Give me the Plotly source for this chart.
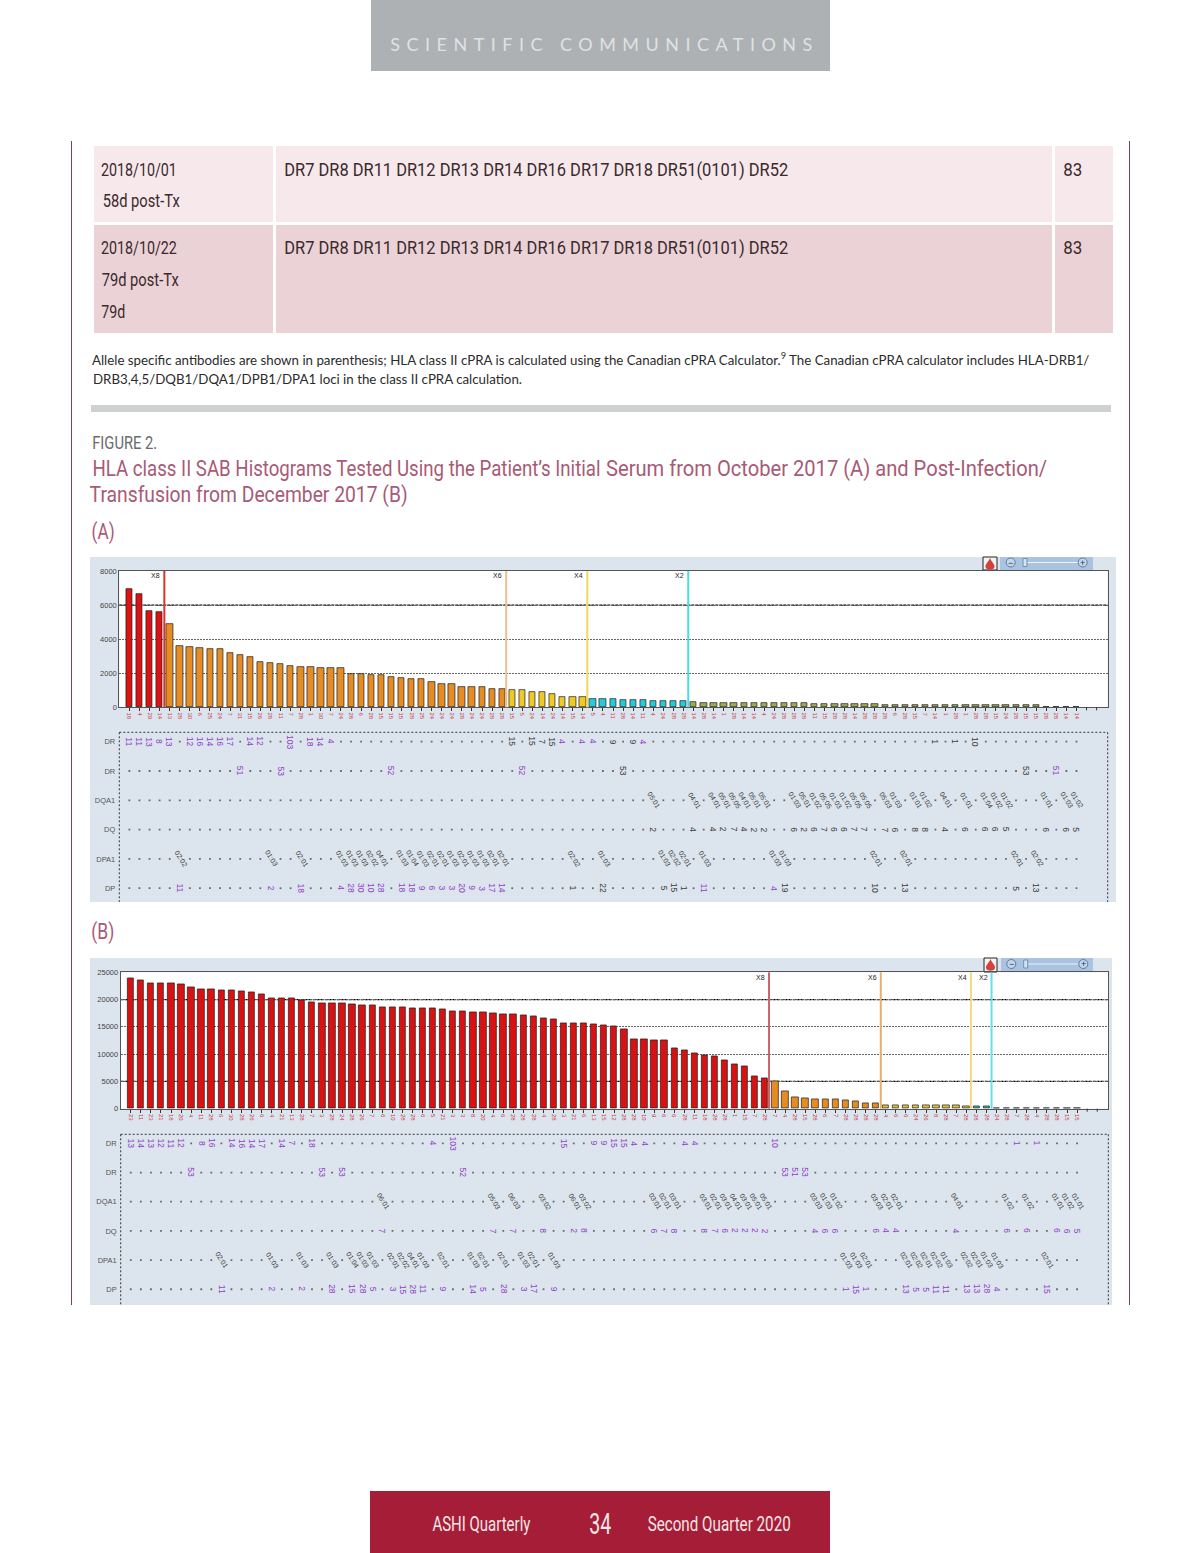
import json
import plotly.graph_objects as go

W, H = 1200, 1553

# ---------- chart data ----------
A_VALUES = [6950, 6630, 5640, 5620, 4870, 3580, 3520, 3460, 3440, 3400, 3170, 3050, 2930, 2640, 2580, 2520,
            2400, 2350, 2340, 2290, 2280, 2280, 1940, 1930, 1880, 1870, 1760, 1740, 1640, 1640, 1470, 1350,
            1340, 1170, 1170, 1170, 1060, 1050, 1000, 990, 880, 870, 760, 590, 580, 580, 470, 460,
            470, 410, 410, 410, 350, 350, 350, 350, 290, 235, 235, 235, 235, 235, 235, 235,
            235, 235, 235, 230, 175, 175, 175, 175, 175, 175, 175, 120, 120, 120, 120, 120,
            120, 120, 120, 120, 120, 120, 120, 120, 120, 120, 120, 40, 40, 40, 0]
A_GROUPS = [4, 34, 8, 10, 35, 4]
B_VALUES = [23960, 23600, 23040, 22980, 22980, 22800, 22310, 21940, 21940, 21700, 21700, 21580, 21330, 20970,
            20290, 20290, 20290, 19870, 19560, 19380, 19380, 19320, 19130, 19010, 19010, 18640, 18640, 18640,
            18400, 18400, 18400, 18280, 17910, 17910, 17730, 17670, 17540, 17360, 17300, 17180, 16990, 16630,
            16440, 15650, 15650, 15650, 15530, 15220, 15160, 14550, 12780, 12710, 12590, 12590, 11060, 10760,
            10150, 9840, 9540, 8920, 8130, 7760, 5930, 5560, 4950, 3180, 2080, 1890, 1710, 1710, 1710, 1530,
            1340, 980, 980, 610, 610, 610, 610, 600, 600, 600, 600, 430, 420, 370, 60, 50, 50, 40, 40, 30, 30, 30, 0]
B_GROUPS = [64, 11, 9, 2, 9]
GROUP_COLORS_A = ["#dd1212", "#e58c24", "#efca26", "#25cbdc", "#9dab52", "#333333"]
GROUP_COLORS_B = ["#d81212", "#e58c24", "#e2c03a", "#3bbcb4", "#333333"]

A_BEADS = ["18", "4", "29", "14", "13", "28", "30", "6", "25", "24", "7", "31", "15", "26", "28", "11",
           "7", "28", "1", "30", "7", "24", "28", "6", "28", "15", "15", "15", "28", "25", "24", "24",
           "24", "28", "24", "24", "28", "28", "15", "5", "24", "14", "24", "14", "15", "14", "5", "4",
           "11", "28", "14", "11", "4", "24", "28", "28", "14", "28", "14", "1", "28", "14", "14", "4",
           "24", "28", "28", "28", "11", "15", "28", "28", "14", "28", "28", "28", "6", "28", "15", "7",
           "14", "1", "28", "1", "28", "28", "15", "24", "28", "15", "15", "28", "28", "14", "14"]
B_BEADS = ["23", "11", "23", "21", "18", "20", "4", "11", "28", "6", "30", "28", "26", "6", "4", "21",
           "13", "28", "7", "3", "28", "24", "28", "26", "7", "6", "10", "28", "28", "6", "5", "21",
           "3", "3", "8", "20", "4", "6", "28", "28", "28", "4", "28", "3", "21", "6", "13", "15",
           "12", "28", "28", "10", "9", "6", "6", "28", "11", "18", "28", "28", "1", "15", "7", "28",
           "7", "4", "28", "15", "28", "6", "7", "28", "28", "28", "28", "4", "6", "6", "24", "26",
           "8", "28", "7", "28", "28", "28", "24", "28", "7", "28", "4", "28", "28", "15", "15"]

A_CUTS = [3.47, 37.4, 45.45, 55.47]
B_CUTS = [63.4, 74.5, 83.45, 85.5]
CUT_NAMES = ["X8", "X6", "X4", "X2"]
CUT_COLORS_A = ["#d8342c", "#ecbf90", "#f2d85c", "#4bdbe8"]
CUT_COLORS_B = ["#c9636b", "#e6b06a", "#f2d97a", "#63e0ec"]
EXTRA_TICKS = [95, 96]
HEAVY_GRID_A = [6000]
HEAVY_GRID_B = [5000, 20000]

ROW_NAMES = ["DR", "DR", "DQA1", "DQ", "DPA1", "DP"]

A_R1 = {0: "11", 1: "11", 2: "13", 3: "8", 4: "13", 6: "12", 7: "16", 8: "14", 9: "16", 10: "17", 12: "14", 13: "12",
        16: "103", 18: "18", 19: "14", 20: "4", 38: "15", 40: "15", 41: "7", 42: "15", 43: "4", 45: "4", 46: "4",
        48: "9", 50: "9", 51: "4", 80: "1", 82: "1", 84: "10"}
A_R1_BLACK = [38, 40, 41, 42, 48, 50, 80, 82, 84]
A_R2 = {11: "51", 15: "53", 26: "52", 39: "52", 49: "53", 89: "53", 92: "51"}
A_R2_BLACK = [49, 89]
A_R3 = {52: "05:01", 56: "04:01", 58: "04:01", 59: "05:01", 60: "05:05", 61: "04:01", 62: "05:01", 63: "05:01",
        66: "01:03", 67: "05:01", 68: "01:02", 69: "05:05", 70: "01:03", 71: "01:02", 72: "05:05", 73: "05:05",
        75: "05:03", 76: "01:03", 78: "01:01", 79: "01:02", 81: "04:01", 83: "01:01", 85: "01:04", 86: "01:02",
        87: "01:02", 91: "01:01", 93: "01:03", 94: "01:02"}
A_R4 = {52: "2", 56: "4", 58: "4", 59: "2", 60: "7", 61: "4", 62: "2", 63: "2", 66: "6", 67: "2", 68: "6", 69: "7",
        70: "6", 71: "6", 72: "7", 73: "7", 75: "7", 76: "6", 78: "8", 79: "8", 81: "4", 83: "6", 85: "6", 86: "6",
        87: "5", 91: "6", 93: "6", 94: "5"}
A_R5 = {5: "02:02", 14: "01:03", 17: "02:01", 21: "01:03", 22: "01:03", 23: "01:03", 24: "02:02", 25: "04:01",
        27: "01:03", 28: "01:04", 29: "01:03", 30: "02:01", 31: "02:01", 32: "01:03", 33: "02:01", 34: "01:03",
        35: "01:03", 36: "02:01", 37: "02:01", 44: "02:02", 47: "01:03", 53: "01:03", 54: "02:02", 55: "02:01",
        57: "01:03", 64: "01:03", 65: "01:03", 74: "02:01", 77: "02:01", 88: "02:01", 90: "02:02"}
A_R6 = {5: "11", 14: "2", 17: "18", 21: "4", 22: "28", 23: "30", 24: "10", 25: "28", 27: "18", 28: "18", 29: "9",
        30: "6", 31: "3", 32: "3", 33: "20", 34: "9", 35: "3", 36: "17", 37: "14", 44: "1", 47: "22", 53: "5",
        54: "15", 55: "1", 57: "11", 64: "4", 65: "19", 74: "10", 77: "13", 88: "5", 90: "13"}
A_R6_BLACK = [44, 47, 53, 54, 55, 65, 74, 77, 88, 90]

B_R1 = {0: "13", 1: "14", 2: "13", 3: "12", 4: "11", 5: "12", 7: "8", 8: "16", 10: "14", 11: "16", 12: "14", 13: "17",
        15: "14", 16: "7", 18: "18", 30: "4", 32: "103", 43: "15", 46: "9", 47: "9", 48: "15", 49: "15", 50: "4",
        51: "4", 55: "4", 56: "4", 64: "10", 88: "1", 90: "1"}
B_R2 = {6: "53", 19: "53", 21: "53", 33: "52", 65: "53", 66: "51", 67: "53"}
B_R3 = {25: "06:01", 36: "05:03", 38: "06:03", 41: "03:02", 44: "06:01", 45: "03:02", 52: "03:01", 53: "02:01",
        54: "03:01", 57: "03:01", 58: "02:01", 59: "03:01", 60: "04:01", 61: "03:01", 62: "05:01", 63: "05:01",
        68: "03:03", 69: "01:03", 70: "01:02", 74: "03:03", 75: "02:01", 76: "02:01", 82: "04:01", 87: "01:02",
        89: "01:02", 92: "01:01", 93: "01:02", 94: "01:01"}
B_R4 = {25: "7", 36: "7", 38: "7", 41: "8", 44: "2", 45: "8", 52: "6", 53: "7", 54: "8", 57: "8", 58: "7", 59: "6",
        60: "2", 61: "2", 62: "2", 63: "2", 68: "4", 69: "6", 70: "6", 74: "6", 75: "4", 76: "4", 82: "4", 87: "6",
        89: "6", 92: "6", 93: "6", 94: "5"}
B_R5 = {9: "02:01", 14: "01:03", 17: "01:03", 20: "01:03", 22: "01:04", 23: "01:03", 24: "01:03", 26: "02:01",
        27: "02:02", 28: "04:01", 29: "01:03", 31: "02:01", 34: "01:03", 35: "02:01", 37: "02:01", 39: "01:03",
        40: "02:01", 42: "01:03", 71: "01:03", 72: "01:03", 73: "02:01", 77: "02:01", 78: "02:02", 79: "02:01",
        80: "02:02", 81: "01:03", 83: "02:02", 84: "02:01", 85: "01:03", 86: "01:03", 91: "02:01"}
B_R6 = {9: "11", 14: "2", 17: "2", 20: "28", 22: "15", 23: "28", 24: "5", 26: "3", 27: "15", 28: "28", 29: "11",
        31: "9", 34: "14", 35: "5", 37: "28", 39: "3", 40: "17", 42: "9", 71: "1", 72: "15", 73: "1", 77: "13",
        78: "5", 79: "5", 80: "11", 81: "11", 83: "13", 84: "13", 85: "28", 86: "4", 91: "15"}

PURPLE = "#9040c8"
SANS = "Liberation Sans"
NARROW = "Roboto"


def px(x):
    return x / W


def py(y):
    return 1 - y / H


shapes, notes = [], []
fitted = {}


def rect(x0, y0, x1, y1, color, line=None):
    shapes.append(dict(type="rect", xref="paper", yref="paper", x0=px(x0), x1=px(x1), y0=py(y0), y1=py(y1),
                       fillcolor=color, line=dict(width=1 if line else 0, color=line or color), layer="below"))


def text(x, y, s, size, color, font=NARROW, anchor="left"):
    notes.append(dict(text=s, x=px(x), y=py(y), xref="paper", yref="paper", xanchor=anchor, yanchor="middle",
                      showarrow=False, borderpad=0, font=dict(size=size, color=color, family=font)))


def span(x0, x1, y, s, size, color, font=NARROW, mode="spacingAndGlyphs"):
    """Text set to run from x0 to x1, as the condensed type of the page does."""
    text((x0 + x1) / 2, y, s, size, color, font=font, anchor="center")
    fitted[s] = [x1 - x0, mode]


# ---------- page furniture ----------
rect(371, 0, 830, 71, "#adb1b3")
span(390, 812, 44, "SCIENTIFIC\u00a0COMMUNICATIONS", 18, "#dfe2e3", font="Lato", mode="spacing")
for sx in (71.5, 1129.5):
    shapes.append(dict(type="line", xref="paper", yref="paper", x0=px(sx), x1=px(sx), y0=py(141), y1=py(1305),
                       line=dict(color="#7a4450", width=1), layer="below"))
for y0, y1, c in ((146, 222, "#f6e8eb"), (225, 333, "#ebd2d6")):
    for x0, x1 in ((94, 273), (276, 1052), (1055, 1113)):
        rect(x0, y0, x1, y1, c)
TEXT_DARK = "#3b2a2d"
ROW_TXT = "DR7 DR8 DR11 DR12 DR13 DR14 DR16 DR17 DR18 DR51(0101) DR52"
span(101, 177, 169, "2018/10/01", 18, TEXT_DARK)
span(102, 179, 200, "58d post-Tx", 18, TEXT_DARK)
span(284, 788, 169, ROW_TXT, 19, TEXT_DARK)
span(1063, 1082, 169, "83", 19, TEXT_DARK)
span(101, 177, 248, "2018/10/22", 18, TEXT_DARK)
span(101, 178, 279, "79d post-Tx", 18, TEXT_DARK)
span(101, 125, 311, "79d", 18, TEXT_DARK)
span(284, 788, 248, ROW_TXT, 19, TEXT_DARK)
span(1063, 1082, 248, "83", 19, TEXT_DARK)
text(91, 359, "Allele specific antibodies are shown in parenthesis; HLA class II cPRA is calculated using the Canadian cPRA Calculator.<sup>9</sup> The Canadian cPRA calculator includes HLA-DRB1/",
     13.3, "#2b2b2b", font="Lato")
text(92, 379, "DRB3,4,5/DQB1/DQA1/DPB1/DPA1 loci in the class II cPRA calculation.", 13.3, "#2b2b2b", font="Lato")
rect(91, 405, 1111, 412, "#cfd0d0")
span(92, 157, 442, "FIGURE 2.", 18, "#6b6b6b")
TITLE_C = "#a85a76"
span(92, 600, 468, "HLA class II SAB Histograms Tested Using the Patient\u2019s Initial", 22.5, TITLE_C)
span(606, 1047, 468, "Serum from October 2017 (A) and Post-Infection/", 22.5, TITLE_C)
span(89, 407, 495, "Transfusion from December 2017 (B)", 22.5, TITLE_C)
span(91, 114, 532, "(A)", 22.5, TITLE_C)
span(91, 114, 932, "(B)", 22.5, TITLE_C)
rect(370, 1491, 830, 1553, "#a51d36")
span(432, 530, 1524, "ASHI Quarterly", 20, "#f4e6e8")
span(589, 611, 1524, "34", 29, "#f4e6e8")
span(647, 790, 1524, "Second Quarter 2020", 20, "#f4e6e8")

rect(90, 557, 1116, 902, "#dce5ed")
rect(90, 958, 1112, 1305, "#dce5ed")
rect(119.3, 571, 1107.7, 707.3, "#ffffff")
rect(120.7, 972.3, 1108.3, 1108.7, "#ffffff")


def toolbar(bx0, bx1, sx0, sx1, top, bot, c0, c1, knob):
    rect(bx0, top, bx1, bot, "#f3f3f3", line="#222222")
    cx = (bx0 + bx1) / 2
    m = top + 1
    path = (f"M {px(cx)},{py(m)} C {px(cx+1.5)},{py(m+4)} {px(cx+5)},{py(m+6)} {px(cx+4.5)},{py(m+9)} "
            f"C {px(cx+4)},{py(m+12.5)} {px(cx-4)},{py(m+12.5)} {px(cx-4.5)},{py(m+9)} "
            f"C {px(cx-5)},{py(m+6)} {px(cx-1.5)},{py(m+4)} {px(cx)},{py(m)} Z")
    shapes.append(dict(type="path", xref="paper", yref="paper", path=path, fillcolor="#d5403a",
                       line=dict(width=0), layer="below"))
    rect(sx0, top, sx1, bot, "#a9c3e0")
    mid = (top + bot) / 2 - 1
    shapes.append(dict(type="line", xref="paper", yref="paper", x0=px(knob), x1=px(c1), y0=py(mid), y1=py(mid),
                       line=dict(color="#eef4fa", width=1), layer="below"))
    for c in (c0, c1):
        shapes.append(dict(type="circle", xref="paper", yref="paper", x0=px(c - 4.5), x1=px(c + 4.5),
                           y0=py(mid - 4.5), y1=py(mid + 4.5), fillcolor="#c4d6ea",
                           line=dict(color="#5b7da3", width=1), layer="below"))
    rect(knob - 2, mid - 4, knob + 2, mid + 4, "#d6e3f1", line="#6f8fb2")
    text(c0, mid, "\u2212", 9, "#334", font=SANS, anchor="center")
    text(c1, mid, "+", 9, "#334", font=SANS, anchor="center")


toolbar(983, 997, 1000, 1093, 557, 570, 1010.7, 1082.7, 1025)
toolbar(984, 997, 1001, 1093, 958, 972, 1011.3, 1083.3, 1025.7)


def colors_from(groups, palette):
    out = []
    for n, c in zip(groups, palette):
        out += [c] * n
    return out


fig = go.Figure()


def panel(values, groups, palette, beads, cuts, cut_colors, heavy, xa, ya, xr, yr, rows, row_axes_ids, blacks, dtick_max, dtick):
    n = len(values)
    x_id, y_id = xa.replace("axis", ""), ya.replace("axis", "")
    fig.add_trace(go.Bar(x=list(range(n)), y=values, xaxis=x_id, yaxis=y_id, width=0.63,
                         marker=dict(color=colors_from(groups, palette), line=dict(color="#1c1c1c", width=0.7)),
                         showlegend=False, hoverinfo="skip"))
    for v in heavy:
        shapes.append(dict(type="line", xref=f"{x_id} domain", yref=y_id, x0=0, x1=1, y0=v, y1=v, layer="below",
                           line=dict(color="#000000", width=1.2, dash="3px,1px")))
    for c, col, name in zip(cuts, cut_colors, CUT_NAMES):
        shapes.append(dict(type="line", xref=x_id, yref=f"{y_id} domain", x0=c, x1=c, y0=0, y1=1,
                           line=dict(color=col, width=2)))
        notes.append(dict(text=name, x=c, y=0.965, xref=x_id, yref=f"{y_id} domain", xanchor="right", yanchor="middle",
                          xshift=-3, showarrow=False, borderpad=0, font=dict(size=7, color="#222222", family=SANS)))
    for t in EXTRA_TICKS:
        shapes.append(dict(type="line", xref=x_id, yref=f"{y_id} domain", x0=t, x1=t, y0=0, y1=-3 / (yr[1] - yr[0]),
                           line=dict(color="#333333", width=1)))
    (xb, yb) = row_axes_ids
    xb_id, yb_id = xb.replace("axis", ""), yb.replace("axis", "")
    for r, labels in enumerate(rows):
        free = [i for i in range(n) if i not in labels]
        fig.add_trace(go.Scatter(x=free, y=[r] * len(free), xaxis=xb_id, yaxis=yb_id, mode="markers",
                                 marker=dict(symbol="square", size=1.8, color="#6a6a6a"),
                                 showlegend=False, hoverinfo="skip"))
        angled = ROW_NAMES[r] in ("DQA1", "DPA1")
        for i, s in labels.items():
            col = "#3a3a3a" if i in blacks[r] or angled else PURPLE
            notes.append(dict(text=s, x=i, y=r, xref=xb_id, yref=yb_id, showarrow=False, borderpad=0,
                              textangle=58 if angled else 90, xshift=1 if angled else 0,
                              font=dict(size=7 if angled else 8.5, color=col, family=SANS)))
    fig.update_layout({
        xa: dict(domain=[px(xr[0]), px(xr[1])], range=[-1, 97.1], anchor=y_id, automargin=False, tickmode="array",
                 tickvals=list(range(n)), ticktext=beads, tickangle=90,
                 tickfont=dict(size=6, color="#cc3a4c", family=SANS), ticks="outside", ticklen=3,
                 tickcolor="#333333", tickwidth=1, showgrid=False, zeroline=False, showline=True,
                 linecolor="#555555", linewidth=1, mirror=True),
        ya: dict(domain=[py(yr[1]), py(yr[0])], range=[0, dtick_max], anchor=x_id, automargin=False, tick0=0, dtick=dtick,
                 tickfont=dict(size=7.5, color="#444444", family=SANS), ticks="",
                 showgrid=True, gridcolor="#666666", griddash="2px,1px", gridwidth=1, zeroline=False,
                 showline=True, linecolor="#555555", linewidth=1, mirror=True, tickformat="d"),
    })


panel(A_VALUES, A_GROUPS, GROUP_COLORS_A, A_BEADS, A_CUTS, CUT_COLORS_A, HEAVY_GRID_A, "xaxis", "yaxis", (119.3, 1107.7), (571, 707.3),
      [A_R1, A_R2, A_R3, A_R4, A_R5, A_R6], ("xaxis3", "yaxis3"),
      [A_R1_BLACK, A_R2_BLACK, [], list(A_R4), [], A_R6_BLACK], 8000, 2000)
panel(B_VALUES, B_GROUPS, GROUP_COLORS_B, B_BEADS, B_CUTS, CUT_COLORS_B, HEAVY_GRID_B, "xaxis2", "yaxis2", (120.7, 1108.3), (972.3, 1108.7),
      [B_R1, B_R2, B_R3, B_R4, B_R5, B_R6], ("xaxis4", "yaxis4"),
      [[], [], [], [], [], []], 25000, 5000)


def row_axes(xa, ya, xr, yr, rng):
    x_id, y_id = xa.replace("axis", ""), ya.replace("axis", "")
    fig.update_layout({
        xa: dict(domain=[px(xr[0]), px(xr[1])], range=[-1, 97.1], anchor=y_id, automargin=False, visible=False),
        ya: dict(domain=[py(yr[1]), py(yr[0])], range=rng, anchor=x_id, automargin=False, tickmode="array",
                 tickvals=list(range(6)), ticktext=ROW_NAMES, tickfont=dict(size=7.5, color="#555555", family=SANS),
                 ticks="", ticklabelstandoff=3, showgrid=False, zeroline=False, showline=False),
    })
    dash = dict(color="#333333", width=1, dash="2px,2px")
    shapes.append(dict(type="line", xref="paper", yref="paper", x0=px(xr[0]), x1=px(xr[1]), y0=py(yr[0]), y1=py(yr[0]), line=dash))
    shapes.append(dict(type="line", xref="paper", yref="paper", x0=px(xr[0]), x1=px(xr[0]), y0=py(yr[0]), y1=py(yr[1]), line=dash))
    shapes.append(dict(type="line", xref="paper", yref="paper", x0=px(xr[1]), x1=px(xr[1]), y0=py(yr[0]), y1=py(yr[1]), line=dash))


row_axes("xaxis3", "yaxis3", (119.3, 1107.7), (732.3, 902), [5.47, -0.32])
row_axes("xaxis4", "yaxis4", (120.7, 1108.3), (1134.3, 1305), [5.54, -0.31])

fig.update_layout(template="none", width=W, height=H, autosize=False, margin=dict(l=0, r=0, t=0, b=0, pad=0),
                  paper_bgcolor="#ffffff", plot_bgcolor="rgba(0,0,0,0)", showlegend=False, bargap=0,
                  shapes=shapes, annotations=notes, font=dict(family=SANS))

fit_js = ("document.body.style.margin='0';document.documentElement.style.overflow='hidden';"
          "var fitted=" + json.dumps(fitted) + ";"
          "document.querySelectorAll('.annotation-text').forEach(function(t){"
          "var s=fitted[t.textContent];"
          "if(s){t.setAttribute('textLength',s[0]);t.setAttribute('lengthAdjust',s[1]);}});")
fig.write_html("out.html", config=dict(displayModeBar=False), post_script=fit_js)
